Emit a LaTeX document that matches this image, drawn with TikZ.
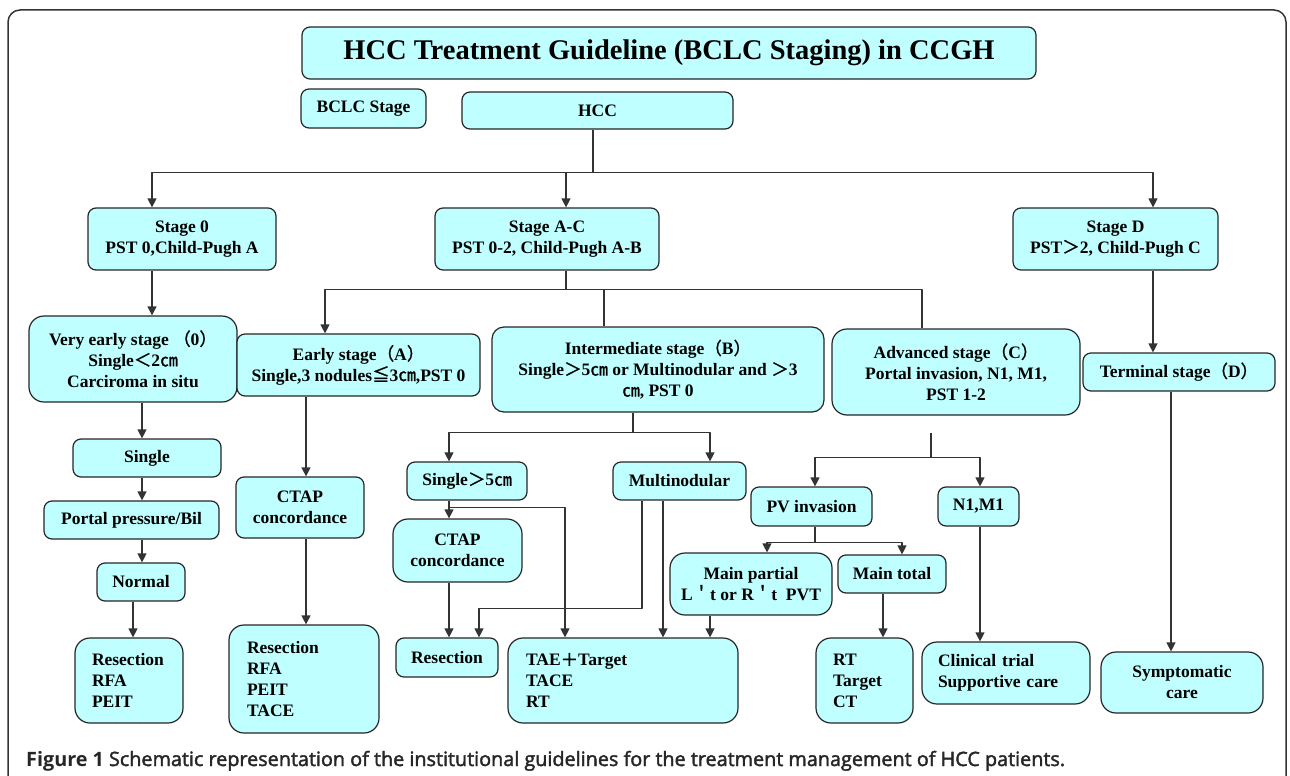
\documentclass[tikz,border=0pt]{standalone}
\usepackage{fontspec}
\setmainfont{Liberation Serif}
\newfontface\cjkf[FakeBold=1.2]{Noto Sans CJK SC}
\newfontfamily\capfont{Open Sans}
\newfontface\capmid[FakeBold=2]{Open Sans}
\usetikzlibrary{arrows.meta}
\definecolor{boxfill}{RGB}{192,255,255}
\definecolor{linegray}{RGB}{51,51,51}
\newcommand{\zh}[1]{{\cjkf #1}}

\begin{document}
\begin{tikzpicture}[x=1pt,y=-1pt,line join=round,
    font=\fontsize{17.5}{21}\selectfont\bfseries,
    >={Triangle[length=9pt,width=9pt]},
    box/.style={draw=black!85,line width=1.2pt,fill=boxfill,rounded corners=8pt,align=center,inner sep=0pt},
    big/.style={rounded corners=15pt},
    con/.style={draw=linegray,line width=1.2pt}]
\clip (0,0) rectangle (1290,776);
\draw[line width=1.5pt,draw=black!80,rounded corners=12pt] (8,10) rectangle (1286,830);
% top
\node[box,minimum width=734pt,minimum height=52pt,font=\fontsize{28.5}{30}\selectfont\bfseries] (title) at (669,53) {HCC Treatment Guideline (BCLC Staging) in CCGH};
\node[box,minimum width=125pt,minimum height=39pt] (bclc) at (363.5,108.5) {BCLC Stage};
\node[box,minimum width=271pt,minimum height=37pt] (hcc) at (597.5,110.5) {HCC};
% stages
\node[box,minimum width=188pt,minimum height=62pt] (s0) at (182,239) {Stage 0\\PST 0,Child-Pugh A};
\node[box,minimum width=224pt,minimum height=62pt] (sac) at (547,239) {Stage A-C\\PST 0-2, Child-Pugh A-B};
\node[box,minimum width=205pt,minimum height=62pt] (sd) at (1115.5,239) {Stage D\\PST\zh{＞}2, Child-Pugh C};
\node[box,big,minimum width=208pt,minimum height=86pt] (vearly) at (133,359) {Very early stage \zh{（}0\zh{）}\\Single\zh{＜}2\zh{㎝}\\Carciroma in situ};
\node[box,minimum width=243pt,minimum height=62pt] (early) at (358.5,365) {Early stage\zh{（}A\zh{）}\\Single,3 nodules\zh{≦}3\zh{㎝},PST 0};
\node[box,rounded corners=12pt,minimum width=332pt,minimum height=85pt] (inter) at (658,369.5) {Intermediate stage\zh{（}B\zh{）}\\Single\zh{＞}5\zh{㎝} or Multinodular and \zh{＞}3\\\zh{㎝}, PST 0};
\node[box,big,minimum width=248pt,minimum height=86pt] (adv) at (956,372) {Advanced stage\zh{（}C\zh{）}\\Portal invasion, N1, M1,\\PST 1-2};
\node[box,minimum width=192pt,minimum height=38pt] (term) at (1179,372) {Terminal stage\zh{（}D\zh{）}};
% stage 0 column
\node[box,minimum width=148pt,minimum height=38pt] (single) at (147,458) {Single};
\node[box,minimum width=175pt,minimum height=38pt] (portal) at (131.5,520) {Portal pressure/Bil};
\node[box,minimum width=88pt,minimum height=38pt] (normal) at (141,582) {Normal};
\node[box,big,minimum width=108pt,minimum height=85pt,align=left,text width=74pt,inner xsep=17pt] (res0) at (129,680.5) {Resection\\RFA\\PEIT};
% stage A column
\node[box,minimum width=128pt,minimum height=61pt] (ctapA) at (300,507.5) {CTAP\\concordance};
\node[box,big,minimum width=150pt,minimum height=108pt,align=left,text width=114pt,inner xsep=18pt] (resA) at (304,679) {Resection\\RFA\\PEIT\\TACE};
% stage B column
\node[box,minimum width=120pt,minimum height=38pt] (sgl5) at (467,481) {Single\zh{＞}5\zh{㎝}};
\node[box,minimum width=133pt,minimum height=38pt] (multi) at (679.5,481) {Multinodular};
\node[box,big,minimum width=129pt,minimum height=63pt] (ctapB) at (457.5,550.5) {CTAP\\concordance};
\node[box,minimum width=102pt,minimum height=39pt] (resB) at (447,657.5) {Resection};
\node[box,big,minimum width=230pt,minimum height=85pt,align=left,text width=194pt,inner xsep=18pt] (tae) at (623,680.5) {TAE\zh{＋}Target\\TACE\\RT};
% stage C column
\node[box,minimum width=121pt,minimum height=39pt] (pv) at (811.5,506.5) {PV invasion};
\node[box,minimum width=81pt,minimum height=39pt] (n1m1) at (978.5,506.5) {N1,M1};
\node[box,big,minimum width=162pt,minimum height=62pt] (mpart) at (751,584) {Main partial\\L\zh{＇}t or R\zh{＇}t \ PVT};
\node[box,minimum width=108pt,minimum height=38pt] (mtotal) at (892,574) {Main total};
\node[box,big,minimum width=97pt,minimum height=85pt,align=left,text width=63pt,inner xsep=17pt] (rt) at (864.5,680.5) {RT\\Target\\CT};
\node[box,big,minimum width=168pt,minimum height=62pt,align=left,text width=136pt,inner xsep=16pt] (clin) at (1006,673) {Clinical trial\\Supportive care};
% stage D column
\node[box,big,minimum width=162pt,minimum height=61pt] (symp) at (1182,682.5) {Symptomatic\\care};
% caption
\node[anchor=base west,inner sep=0pt,text=black!85,font=\fontsize{19.8}{22}\selectfont] (cap) at (26,766) {{\capfont\bfseries Figure 1} {\capmid Schematic representation of the institutional guidelines for the treatment management of HCC patients.}};

% HCC to stages
\coordinate (s0in) at ([xshift=-30pt]s0.north);
\coordinate (sacin) at ([xshift=19pt]sac.north);
\coordinate (sdin) at ([xshift=37.5pt]sd.north);
\draw[con] ([xshift=-4.5pt]hcc.south) -- ++(0,43) coordinate (hj);
\draw[con,->] (hj) -| (s0in);
\draw[con,->] (hj) -| (sdin);
\draw[con,->] (sacin |- hj) -- (sacin);
\draw[con,->] (s0in |- s0.south) -- (s0in |- vearly.north);
\draw[con,->] (sdin |- sd.south) -- (sdin |- term.north);
% stage A-C split
\coordinate (earlyin) at ([xshift=-33.5pt]early.north);
\coordinate (interin) at ([xshift=-54pt]inter.north);
\coordinate (advin) at ([xshift=-34pt]adv.north);
\draw[con] (sacin |- sac.south) -- ++(0,19) coordinate (aj);
\draw[con,->] (aj) -| (earlyin);
\draw[con] (aj) -| (advin);
\draw[con] (interin |- aj) -- (interin);
% stage 0
\coordinate (vx) at ([xshift=9pt]vearly.south);
\coordinate (nx) at ([xshift=-8pt]normal.south);
\draw[con,->] (vx) -- (vx |- single.north);
\draw[con,->] (vx |- single.south) -- (vx |- portal.north);
\draw[con,->] (vx |- portal.south) -- (vx |- normal.north);
\draw[con,->] (nx) -- (nx |- res0.north);
% stage A
\coordinate (ex) at ([xshift=-52.5pt]early.south);
\draw[con,->] (ex) -- (ex |- ctapA.north);
\draw[con,->] (ex |- ctapA.south) -- (ex |- resA.north);
% stage B
\coordinate (sgl5in) at ([xshift=-18pt]sgl5.north);
\coordinate (multiin) at ([xshift=30.5pt]multi.north);
\draw[con] ([xshift=-25pt]inter.south) -- ++(0,20) coordinate (ij);
\draw[con,->] (ij) -| (sgl5in);
\draw[con,->] (ij) -| (multiin);
\draw[con,->] (sgl5in |- sgl5.south) -- (sgl5in |- ctapB.north);
\draw[con,->] (sgl5in |- sgl5.south) ++(0,7) -| ([xshift=-58pt]tae.north);
\draw[con,->] (sgl5in |- ctapB.south) -- (sgl5in |- resB.north);
\coordinate (mx) at ([xshift=-16.5pt]multi.south);
\draw[con,->] ([xshift=-37.5pt]multi.south) -- ++(0,108) -| ([xshift=32pt]resB.north);
\draw[con,->] (mx) -- (mx |- tae.north);
\coordinate (mpx) at ([xshift=-41pt]mpart.south);
\draw[con,->] (mpx) -- (mpx |- tae.north);
% stage C
\draw[con] ([xshift=-25pt,yshift=-17pt]adv.south) -- ++(0,25) coordinate (cj);
\draw[con,->] (cj) -| ([xshift=3.5pt]pv.north);
\draw[con,->] (cj) -| ([xshift=1.5pt]n1m1.north);
\draw[con] ([xshift=3.5pt]pv.south) -- ++(0,16) coordinate (pj);
\draw[con,->] (pj) -| ([xshift=16pt]mpart.north);
\draw[con,->] (pj) -| ([xshift=10pt]mtotal.north);
\coordinate (mtx) at ([xshift=-9pt]mtotal.south);
\draw[con,->] (mtx) -- (mtx |- rt.north);
\coordinate (n1x) at ([xshift=1.5pt]n1m1.south);
\draw[con,->] (n1x) -- (n1x |- clin.north);
% stage D
\coordinate (tx) at ([xshift=-8pt]term.south);
\draw[con,->] (tx) -- (tx |- symp.north);
\end{tikzpicture}
\end{document}
